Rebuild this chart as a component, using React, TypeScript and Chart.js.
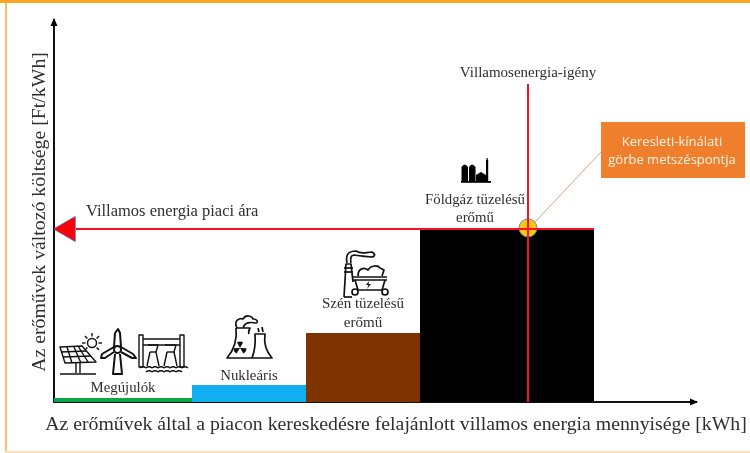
import React, { useEffect, useRef } from "react";
import { Chart, registerables } from "chart.js";

Chart.register(...registerables);

const supplyEdges = [0, 138, 252, 366, 540];
const supplyCosts = [4, 17, 69, 173];
const supplyNames = ["Megújulók", "Nukleáris", "Szén tüzelésű erőmű", "Földgáz tüzelésű erőmű"];
const supplyColors = ["#0ea44a", "#11aef0", "#7f3300", "#000000"];
const priceLine = [{ x: 22, y: 173 }, { x: 540, y: 173 }];
const demandLine = [{ x: 474, y: 0 }, { x: 474, y: 318 }];
const crossing = [{ x: 474, y: 174 }];
const priceArrow = [{ x: 14, y: 173 }];

const xTitle = "Az erőművek által a piacon kereskedésre felajánlott villamos energia mennyisége [kWh]";
const yTitle = "Az erőművek változó költsége [Ft/kWh]";
const priceLabel = "Villamos energia piaci ára";
const demandLabel = "Villamosenergia-igény";
const crossLabel = ["Keresleti-kínálati", "görbe metszéspontja"];

const serif = '"Liberation Serif", serif';
const ink = "#2f2f2f";

function line(c: CanvasRenderingContext2D, pts: number[][], close = false) {
  c.beginPath();
  pts.forEach((p, i) => (i ? c.lineTo(p[0], p[1]) : c.moveTo(p[0], p[1])));
  if (close) c.closePath();
  c.stroke();
}
function circle(c: CanvasRenderingContext2D, x: number, y: number, r: number, fill = false) {
  c.beginPath();
  c.arc(x, y, r, 0, Math.PI * 2);
  fill ? c.fill() : c.stroke();
}
function text(c: CanvasRenderingContext2D, s: string, x: number, y: number, size: number, align: CanvasTextAlign = "center") {
  c.font = `${size}px ${serif}`;
  c.textAlign = align;
  c.textBaseline = "middle";
  c.fillStyle = ink;
  c.fillText(s, x, y);
}

function solarIcon(c: CanvasRenderingContext2D) {
  line(c, [[60, 347], [82, 346], [96, 362], [65, 363]], true);
  line(c, [[61, 352], [86, 351]]);
  line(c, [[63, 357], [91, 356]]);
  line(c, [[67, 347], [72, 363]]);
  line(c, [[74, 347], [81, 363]]);
  line(c, [[78, 346], [88, 362]]);
  line(c, [[76, 363], [76, 373]]);
  line(c, [[80, 363], [80, 373]]);
  line(c, [[60, 374], [96, 374]]);
  circle(c, 92, 343, 4.5);
  for (let i = 0; i < 8; i++) {
    const a = (i * Math.PI) / 4;
    if (i === 2) continue;
    line(c, [[92 + Math.cos(a) * 6.5, 343 + Math.sin(a) * 6.5], [92 + Math.cos(a) * 10, 343 + Math.sin(a) * 10]]);
  }
}
function turbineIcon(c: CanvasRenderingContext2D) {
  c.lineWidth = 2;
  line(c, [[114, 347], [115, 333], [118, 329], [120, 333], [121, 347]]);
  line(c, [[114, 347], [102, 354], [101, 358], [105, 358], [114, 352]]);
  line(c, [[121, 347], [133, 354], [136, 358], [132, 358], [121, 352]]);
  circle(c, 117.5, 349.5, 3.5);
  line(c, [[115, 354], [113, 374], [122, 374], [120, 354]]);
  c.lineWidth = 1.4;
}
function damIcon(c: CanvasRenderingContext2D) {
  line(c, [[139, 335], [143, 335], [143, 367], [139, 367]], true);
  line(c, [[180, 335], [184, 335], [184, 367], [180, 367]], true);
  line(c, [[143, 339], [180, 339]]);
  line(c, [[143, 345], [180, 345]]);
  line(c, [[148, 345], [158, 345], [156, 352], [159, 366]]);
  line(c, [[150, 352], [156, 352]]);
  line(c, [[150, 352], [147, 366]]);
  line(c, [[165, 345], [176, 345], [174, 352], [177, 366]]);
  line(c, [[167, 352], [174, 352]]);
  line(c, [[167, 352], [164, 366]]);
  for (const y of [368, 372]) {
    c.beginPath();
    for (let x = y === 368 ? 140 : 146; x < (y === 368 ? 184 : 178); x += 6) {
      c.moveTo(x, y);
      c.quadraticCurveTo(x + 3, y - 2.5, x + 6, y);
    }
    c.stroke();
  }
}
function nuclearIcon(c: CanvasRenderingContext2D) {
  c.lineWidth = 1.7;
  c.beginPath();
  c.moveTo(236, 328);
  c.quadraticCurveTo(238, 345, 227, 358);
  c.lineTo(272, 358);
  c.quadraticCurveTo(263, 348, 265, 334);
  c.lineTo(255, 334);
  c.quadraticCurveTo(256, 348, 252, 358);
  c.stroke();
  c.beginPath();
  c.moveTo(236, 328);
  c.lineTo(250, 328);
  c.quadraticCurveTo(248, 332, 249, 334);
  c.stroke();
  c.beginPath();
  c.moveTo(237, 328);
  c.bezierCurveTo(233, 320, 240, 318, 243, 319);
  c.bezierCurveTo(246, 314, 252, 316, 253, 319);
  c.bezierCurveTo(258, 319, 258, 323, 256, 323);
  c.bezierCurveTo(250, 322, 245, 322, 243, 328);
  c.stroke();
  line(c, [[258, 328], [259, 332]]);
  line(c, [[262, 327], [263, 332]]);
  c.fillStyle = "#111";
  for (const a of [-Math.PI / 2, Math.PI / 6, (5 * Math.PI) / 6]) {
    c.beginPath();
    c.moveTo(240, 348);
    c.arc(240, 348, 6.5, a - 0.5, a + 0.5);
    c.closePath();
    c.fill();
  }
}
function coalIcon(c: CanvasRenderingContext2D) {
  c.lineWidth = 1.7;
  line(c, [[344, 297], [346, 264], [351, 264], [353, 282]]);
  line(c, [[344, 268], [353, 268]]);
  line(c, [[344, 272], [353, 272]]);
  c.beginPath();
  c.moveTo(347, 263);
  c.bezierCurveTo(345, 253, 350, 251, 356, 251);
  c.bezierCurveTo(362, 255, 366, 252, 372, 252);
  c.bezierCurveTo(376, 254, 375, 257, 371, 257);
  c.bezierCurveTo(365, 256, 358, 256, 354, 255);
  c.bezierCurveTo(351, 255, 350, 258, 351, 263);
  c.stroke();
  line(c, [[353, 277], [387, 277]]);
  line(c, [[353, 280], [387, 280]]);
  line(c, [[355, 280], [358, 290], [382, 290], [385, 280]]);
  line(c, [[344, 297], [352, 297]]);
  circle(c, 355, 292, 3);
  circle(c, 385, 292, 3);
  c.beginPath();
  c.moveTo(358, 276);
  c.bezierCurveTo(358, 268, 364, 267, 368, 270);
  c.bezierCurveTo(371, 265, 378, 265, 380, 268);
  c.lineTo(384, 270);
  c.lineTo(382, 276);
  c.stroke();
  c.fillStyle = "#111";
  c.beginPath();
  c.moveTo(369, 281);
  c.lineTo(366, 285);
  c.lineTo(368.5, 285);
  c.lineTo(367, 289);
  c.lineTo(371, 284);
  c.lineTo(368.5, 284);
  c.closePath();
  c.fill();
}
function gasIcon(c: CanvasRenderingContext2D) {
  c.fillStyle = "#000";
  c.beginPath();
  c.moveTo(461.5, 182);
  c.lineTo(461.5, 167);
  c.quadraticCurveTo(464.5, 162, 468, 167);
  c.lineTo(468, 182);
  c.moveTo(469, 182);
  c.lineTo(469, 167);
  c.quadraticCurveTo(472, 162, 475.5, 167);
  c.lineTo(475.5, 182);
  c.moveTo(476, 182);
  c.lineTo(476, 175);
  c.lineTo(481, 172);
  c.lineTo(486, 175);
  c.lineTo(486, 182);
  c.fill();
  c.fillRect(486, 160, 2.2, 22);
  c.fillRect(486.5, 158, 1.2, 2);
  c.fillRect(461, 181, 30, 1.8);
}

const decorations = {
  id: "decorations",
  beforeDraw(chart: any) {
    const c = chart.ctx;
    c.save();
    c.fillStyle = "#ffffff";
    c.fillRect(0, 0, 750, 453);
    c.fillStyle = "#f9a423";
    c.fillRect(0, 0, 750, 3);
    c.fillStyle = "#fcbd68";
    c.fillRect(5, 3, 2, 449);
    c.fillStyle = "#ffdfb4";
    c.fillRect(5, 451, 745, 2);
    c.restore();
  },
  afterDraw(chart: any) {
    const c = chart.ctx;
    const x = chart.scales.x;
    const y = chart.scales.y;
    const centers = supplyEdges.slice(0, -1).map((e, i) => x.getPixelForValue((e + supplyEdges[i + 1]) / 2));
    c.save();
    // axis arrow heads
    c.fillStyle = "#000";
    c.beginPath();
    c.moveTo(x.left, y.top - 2);
    c.lineTo(x.left - 3.5, y.top + 6);
    c.lineTo(x.left + 3.5, y.top + 6);
    c.closePath();
    c.fill();
    c.beginPath();
    c.moveTo(x.right + 2, y.bottom);
    c.lineTo(x.right - 6, y.bottom - 3.5);
    c.lineTo(x.right - 6, y.bottom + 3.5);
    c.closePath();
    c.fill();

    // axis titles
    text(c, xTitle, 396, 425, 19.8);
    c.save();
    c.translate(40, 212);
    c.rotate(-Math.PI / 2);
    text(c, yTitle, 0, 0, 19.8);
    c.restore();

    // labels
    text(c, priceLabel, 86, 212, 16.5, "left");
    text(c, demandLabel, 528, 73, 15);
    text(c, supplyNames[0], centers[0], 388, 14.8);
    text(c, supplyNames[1], centers[1], 376, 14.8);
    text(c, "Szén tüzelésű", centers[2], 304.5, 15);
    text(c, "erőmű", centers[2], 323, 15);
    text(c, "Földgáz tüzelésű", 475, 200, 14.8);
    text(c, "erőmű", 475, 218, 14.8);

    // leader and callout
    c.strokeStyle = "#d9a283";
    c.lineWidth = 1;
    line(c, [[535, 222], [601, 152]]);
    c.fillStyle = "#f07f2d";
    c.fillRect(601, 122, 144, 56);
    c.fillStyle = "#fff3e6";
    c.font = '13px "Open Sans", sans-serif';
    c.textAlign = "center";
    c.textBaseline = "middle";
    c.fillText(crossLabel[0], 672, 142);
    c.fillText(crossLabel[1], 672, 160);

    // icons
    c.strokeStyle = "#111";
    c.lineWidth = 1.4;
    c.lineJoin = "round";
    solarIcon(c);
    turbineIcon(c);
    damIcon(c);
    nuclearIcon(c);
    coalIcon(c);
    gasIcon(c);
    c.restore();
  },
};

const App = () => {
  const ref = useRef<HTMLCanvasElement | null>(null);
  useEffect(() => {
    const stepSets = supplyCosts.map((cost, i) => ({
      type: "line" as const,
      label: supplyNames[i],
      data: [{ x: supplyEdges[i], y: cost }, { x: supplyEdges[i + 1], y: cost }],
      borderWidth: 0,
      borderColor: supplyColors[i],
      backgroundColor: supplyColors[i],
      fill: "origin",
      pointRadius: 0,
      tension: 0,
    }));
    const chart = new Chart(ref.current!, {
      type: "line",
      data: {
        datasets: [
          { label: "Igény", data: demandLine, borderColor: "#f5121f", borderWidth: 2, pointRadius: 0, fill: false },
          { label: "Ár", data: priceLine, borderColor: "#f5121f", borderWidth: 2, pointRadius: 0, fill: false },
          {
            label: "Nyíl",
            data: priceArrow,
            showLine: false,
            pointStyle: "triangle",
            rotation: -90,
            pointRadius: 14.5,
            backgroundColor: "#fb0007",
            borderColor: "#5a5fa8",
            borderWidth: 0.8,
          },
          {
            label: "Metszéspont",
            data: crossing,
            showLine: false,
            pointRadius: 9,
            backgroundColor: "#fdc60b",
            borderColor: "#6d8cab",
            borderWidth: 1,
          },
          ...stepSets,
        ] as any,
      },
      options: {
        responsive: false,
        animation: false,
        layout: { padding: { left: 46, top: 20, right: 54, bottom: 43 } },
        plugins: { legend: { display: false }, tooltip: { enabled: false } },
        scales: {
          x: {
            type: "linear",
            min: 0,
            max: 642,
            grid: { display: false },
            ticks: { display: false },
            border: { display: true, color: "#111", width: 2 },
          },
          y: {
            type: "linear",
            min: 0,
            max: 382,
            grid: { display: false },
            ticks: { display: false },
            border: { display: true, color: "#111", width: 2 },
          },
        },
      } as any,
      plugins: [decorations],
    });
    return () => chart.destroy();
  }, []);
  return (
    <canvas
      ref={ref}
      width={750}
      height={453}
      style={{ position: "absolute", left: 0, top: 0, width: 750, height: 453, filter: "blur(0.6px)" }}
    />
  );
};

export default App;
